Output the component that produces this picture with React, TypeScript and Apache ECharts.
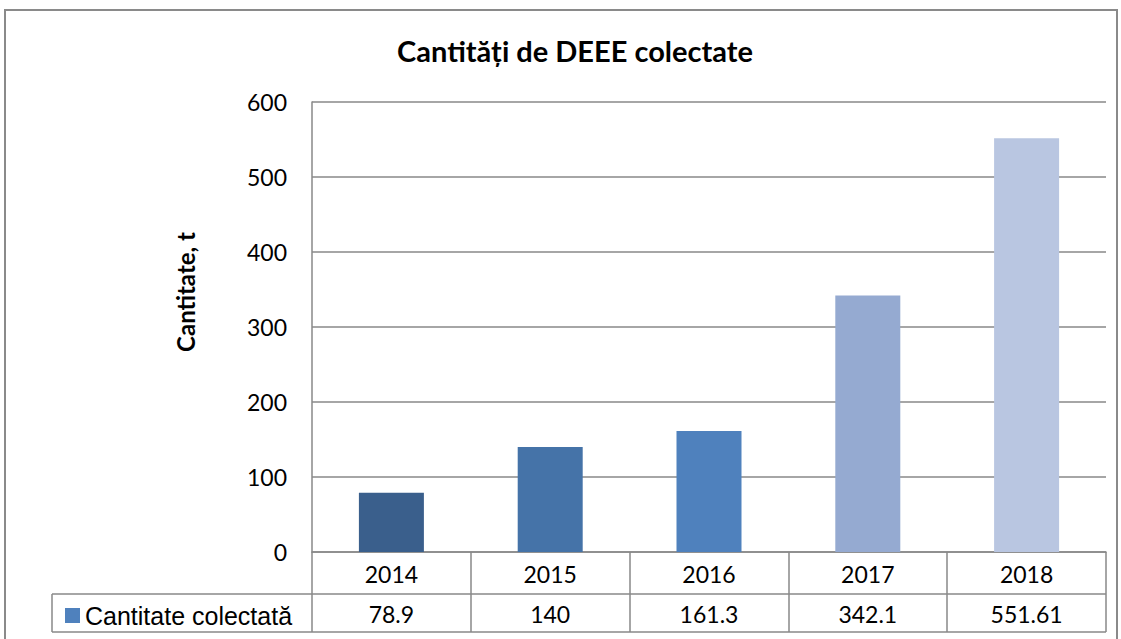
import React, { useEffect, useRef } from "react";
import * as echarts from "echarts";

const years = ["2014", "2015", "2016", "2017", "2018"];
const values = [78.9, 140, 161.3, 342.1, 551.61];
const valueLabels = ["78.9", "140", "161.3", "342.1", "551.61"];
const barColors = ["#3A5F8C", "#4573A8", "#4F81BD", "#95AAD1", "#B9C6E1"];
const seriesName = "Cantitate colectată";
const titleText = "Cantități de DEEE colectate";
const yName = "Cantitate, t";

export default function App() {
  const ref = useRef<HTMLDivElement>(null);
  useEffect(() => {
    if (!ref.current) return;
    const chart = echarts.init(ref.current, null, { renderer: "svg" });
    const font = "Lato, 'Open Sans', sans-serif";
    const lineColor = "#898989";
    chart.setOption({
      animation: false,
      backgroundColor: "#ffffff",
      title: {
        text: titleText,
        left: 570,
        top: 31,
        textAlign: "center",
        textStyle: { fontFamily: font, fontWeight: "bold", fontSize: 29, color: "#000" },
      },
      legend: {
        data: [{ name: seriesName, icon: "rect" }],
        left: 60,
        top: 598,
        itemWidth: 15,
        itemHeight: 15,
        itemGap: 5,
        textStyle: { fontFamily: "'Liberation Sans', Arial, sans-serif", fontSize: 25, color: "#000" },
        selectedMode: false,
      },
      grid: { left: 312, right: 15, top: 102, bottom: 87 },
      xAxis: {
        type: "category",
        data: years,
        axisLine: { show: true, lineStyle: { color: lineColor, width: 1.5 } },
        axisTick: { show: true, inside: false, length: 80, alignWithLabel: false, lineStyle: { color: lineColor, width: 1.5 } },
        axisLabel: {
          margin: 1,
          interval: 0,
          formatter: (v: string, i: number) => `{y|${v}}\n{v|${valueLabels[i]}}`,
          rich: {
            y: { fontFamily: font, fontSize: 23, color: "#000", lineHeight: 41, height: 41 },
            v: { fontFamily: font, fontSize: 23, color: "#000", lineHeight: 40, height: 40 },
          },
        },
      },
      yAxis: {
        type: "value",
        min: 0,
        max: 600,
        interval: 100,
        axisLine: { show: true, lineStyle: { color: lineColor, width: 1.5 } },
        axisTick: { show: false },
        axisLabel: { margin: 25, fontFamily: font, fontSize: 23, color: "#000" },
        splitLine: { show: true, lineStyle: { color: lineColor, width: 1.5 } },
      },
      series: [
        {
          name: seriesName,
          type: "bar",
          barWidth: 65,
          itemStyle: { color: "#4F81BD" },
          data: values.map((v, i) => ({ value: v, itemStyle: { color: barColors[i] } })),
        },
      ],
      graphic: [
        {
          type: "rect",
          shape: { x: 5, y: 10, width: 1112, height: 700 },
          style: { fill: "none", stroke: "#8a8a8a", lineWidth: 2 },
          silent: true,
        },
        {
          type: "text",
          x: 185,
          y: 292,
          rotation: Math.PI / 2,
          style: {
            text: yName,
            fontFamily: font,
            fontWeight: "bold",
            fontSize: 24,
            fill: "#000",
            align: "center",
            verticalAlign: "middle",
          },
        },
        {
          type: "line",
          shape: { x1: 52, y1: 594, x2: 1106, y2: 594 },
          style: { stroke: lineColor, lineWidth: 1.5 },
        },
        {
          type: "line",
          shape: { x1: 52, y1: 632, x2: 1106, y2: 632 },
          style: { stroke: lineColor, lineWidth: 1.5 },
        },
        {
          type: "line",
          shape: { x1: 52, y1: 594, x2: 52, y2: 632 },
          style: { stroke: lineColor, lineWidth: 1.5 },
        },
      ],
    });
    return () => chart.dispose();
  }, []);
  return (
    <div
      ref={ref}
      style={{ position: "absolute", left: 0, top: 0, width: 1121, height: 639 }}
    />
  );
}
